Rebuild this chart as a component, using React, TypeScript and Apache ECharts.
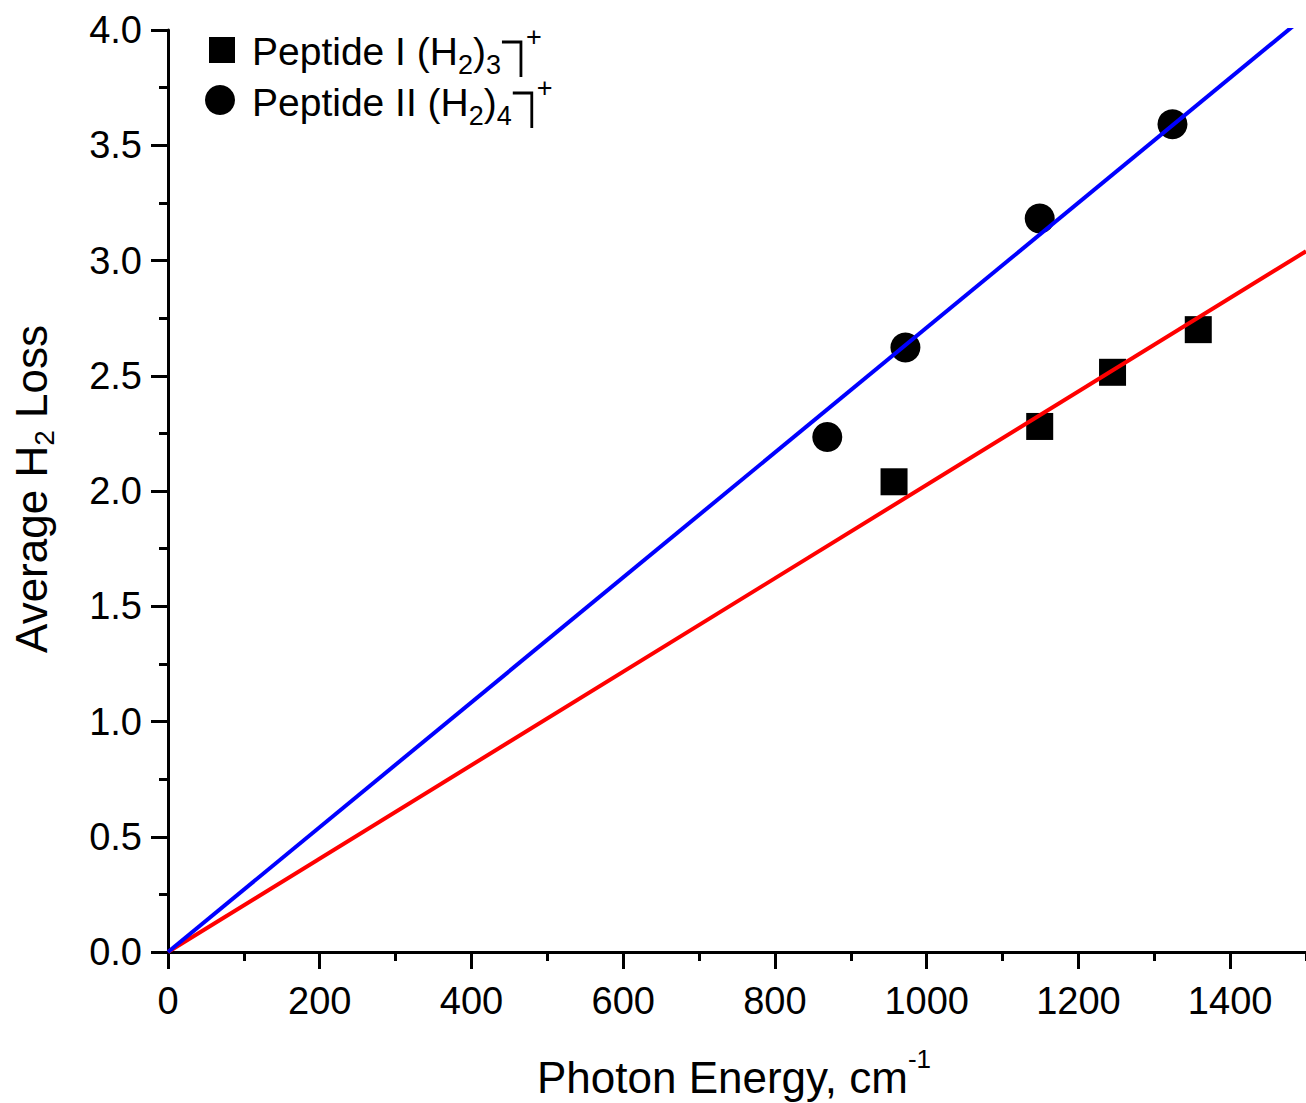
import React, { useEffect, useRef } from "react";
import * as echarts from "echarts";

// ---- data ----
const xTickLabels = ["0", "200", "400", "600", "800", "1000", "1200", "1400"];
const yTickLabels = ["0.0", "0.5", "1.0", "1.5", "2.0", "2.5", "3.0", "3.5", "4.0"];

const peptide1Energy = [957, 1149, 1245, 1358];
const peptide1Loss = [2.04, 2.28, 2.515, 2.7];

const peptide2Energy = [869, 972, 1149, 1324];
const peptide2Loss = [2.234, 2.623, 3.182, 3.591];

const fitEnergy = [0, 1500];
const fit1Loss = [0, 3.04];
const fit2Loss = [0, 4.063];

const FONT = '"Liberation Sans", Arial, Helvetica, sans-serif';

let measureCtx: CanvasRenderingContext2D | null = null;
function measure(text: string, size: number): number {
  if (!measureCtx) {
    const c = document.createElement("canvas");
    measureCtx = c.getContext("2d");
  }
  if (!measureCtx) return text.length * size * 0.55;
  measureCtx.font = `${size}px ${FONT}`;
  return measureCtx.measureText(text).width;
}

type Seg = { text: string; size: number; dy: number };

function runWidth(segs: Seg[]): number {
  return segs.reduce((s, g) => s + measure(g.text, g.size), 0);
}

function runElements(segs: Seg[], x0: number, baseline: number) {
  let x = x0;
  const els: any[] = [];
  for (const g of segs) {
    els.push({
      type: "text",
      x,
      y: baseline + g.dy - 0.35 * g.size,
      style: {
        text: g.text,
        fontSize: g.size,
        fontFamily: FONT,
        fill: "#000",
        align: "left",
        verticalAlign: "middle",
        textAlign: "left",
        textVerticalAlign: "middle",
      },
    });
    x += measure(g.text, g.size);
  }
  return { els, endX: x };
}

function legendLine(
  main: string,
  subA: string,
  subB: string,
  x0: number,
  baseline: number
) {
  const segs: Seg[] = [
    { text: main, size: 39, dy: 0 },
    { text: subA, size: 27, dy: 9 },
    { text: ")", size: 39, dy: 0 },
    { text: subB, size: 27, dy: 9 },
  ];
  const { els, endX } = runElements(segs, x0, baseline);
  const bx1 = endX + 1;
  const bx2 = endX + 20;
  const top = baseline - 23;
  const bottom = baseline + 12;
  els.push({
    type: "polyline",
    shape: { points: [[bx1, top], [bx2, top], [bx2, bottom]] },
    style: { stroke: "#000", lineWidth: 2.8, fill: null },
  });
  const plus = runElements([{ text: "+", size: 27, dy: 0 }], bx2 + 5, top + 4);
  return els.concat(plus.els);
}

export default function App() {
  const ref = useRef<HTMLDivElement>(null);

  useEffect(() => {
    if (!ref.current) return;
    const chart = echarts.init(ref.current, undefined, { renderer: "svg" });

    const yTitleSegs: Seg[] = [
      { text: "Average H", size: 44, dy: 0 },
      { text: "2", size: 28, dy: 7 },
      { text: " Loss", size: 44, dy: 0 },
    ];
    const yTitleW = runWidth(yTitleSegs);
    const yTitle = runElements(yTitleSegs, 0, 0).els;

    const xTitleSegs: Seg[] = [
      { text: "Photon Energy, cm", size: 44, dy: 0 },
      { text: "-1", size: 26, dy: -25 },
    ];
    const xTitleW = runWidth(xTitleSegs);
    const xTitle = runElements(xTitleSegs, 734 - xTitleW / 2, 1093).els;

    const legend1 = legendLine("Peptide I (H", "2", "3", 252, 65);
    const legend2 = legendLine("Peptide II (H", "2", "4", 252, 116);

    const axisLine = { show: true, lineStyle: { color: "#000", width: 3 } };

    chart.setOption({
      animation: false,
      grid: { left: 168, right: -3, top: 30, bottom: 151, containLabel: false },
      xAxis: [
        {
          type: "value",
          position: "bottom",
          min: 0,
          max: 1500,
          interval: 200,
          axisLine,
          axisTick: { show: true, inside: false, length: 17, lineStyle: { color: "#000", width: 3 } },
          axisLabel: {
            show: true,
            margin: 30,
            fontSize: 38,
            fontFamily: FONT,
            color: "#000",
            showMaxLabel: false,
            formatter: (v: number) => {
              const s = String(v);
              return xTickLabels.includes(s) ? s : "";
            },
          },
          splitLine: { show: false },
        },
        {
          type: "value",
          position: "bottom",
          min: 0,
          max: 1500,
          interval: 100,
          axisLine: { show: false },
          axisTick: { show: true, inside: false, length: 9, lineStyle: { color: "#000", width: 3 } },
          axisLabel: { show: false },
          splitLine: { show: false },
        },
      ],
      yAxis: {
        type: "value",
        min: 0,
        max: 4,
        interval: 0.5,
        axisLine,
        axisTick: { show: true, inside: false, length: 17, lineStyle: { color: "#000", width: 3 } },
        minorTick: { show: true, splitNumber: 2, length: 9, lineStyle: { color: "#000", width: 3 } },
        axisLabel: {
          show: true,
          margin: 26,
          fontSize: 38,
          fontFamily: FONT,
          color: "#000",
          formatter: (v: number) => {
            const s = v.toFixed(1);
            return yTickLabels.includes(s) ? s : "";
          },
        },
        splitLine: { show: false },
        minorSplitLine: { show: false },
      },
      series: [
        {
          name: "Peptide I",
          type: "scatter",
          xAxisIndex: 0,
          symbol: "rect",
          symbolSize: 27,
          itemStyle: { color: "#000", opacity: 1 },
          data: peptide1Energy.map((x, i) => [x, peptide1Loss[i]]),
          z: 2,
        },
        {
          name: "Peptide II",
          type: "scatter",
          xAxisIndex: 0,
          symbol: "circle",
          symbolSize: 30,
          itemStyle: { color: "#000", opacity: 1 },
          data: peptide2Energy.map((x, i) => [x, peptide2Loss[i]]),
          z: 2,
        },
        {
          name: "Fit I",
          type: "line",
          xAxisIndex: 0,
          showSymbol: false,
          symbol: "none",
          lineStyle: { color: "#ff0000", width: 4 },
          data: fitEnergy.map((x, i) => [x, fit1Loss[i]]),
          z: 3,
        },
        {
          name: "Fit II",
          type: "line",
          xAxisIndex: 0,
          showSymbol: false,
          symbol: "none",
          lineStyle: { color: "#0000ff", width: 4 },
          data: fitEnergy.map((x, i) => [x, fit2Loss[i]]),
          z: 3,
        },
      ],
      graphic: [
        {
          type: "group",
          x: 47,
          y: 489 + yTitleW / 2,
          rotation: Math.PI / 2,
          children: yTitle,
        },
        ...xTitle,
        { type: "rect", shape: { x: 209, y: 37, width: 26, height: 26 }, style: { fill: "#000" } },
        { type: "circle", shape: { cx: 220, cy: 100, r: 15 }, style: { fill: "#000" } },
        ...legend1,
        ...legend2,
      ],
    });

    return () => chart.dispose();
  }, []);

  return (
    <div
      style={{ position: "fixed", left: 0, top: 0, width: 1306, height: 1103, background: "#fff" }}
    >
      <div ref={ref} style={{ width: 1306, height: 1103 }} />
    </div>
  );
}
